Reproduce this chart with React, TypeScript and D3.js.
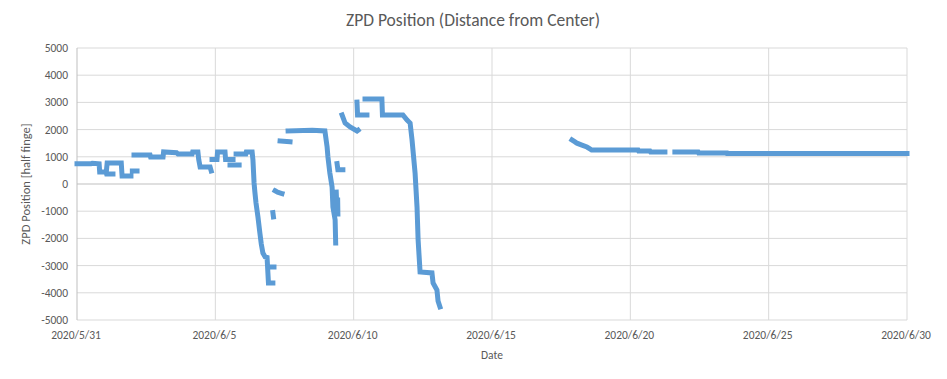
import React from "react";
import * as d3 from "d3";

// Series: time as days since 2020/5/31 00:00, value in half fringes; null splits segments
const dayOffsets: (number | null)[] = [
  0, 0.5, 0.55, 0.8, 0.82, 1.05, 1.07, 1.3, null,
  1.07, 1.09, 1.6, 1.63, 1.95, null,
  2.0, 2.17, null,
  2.06, 2.64, 2.66, 3.11, 3.13, 3.6, 3.65, 4.16, 4.18, 4.37, 4.4, 4.45, 4.81, 4.85, null,
  4.88, 5.06, 5.08, 5.35, 5.37, 5.64, null,
  5.53, 5.86, null,
  5.75, 6.1, 6.12, 6.33, 6.36, 6.4, 6.43, 6.47, 6.54, 6.61, 6.66, 6.72, 6.8, 6.87, 6.9, 6.92, 7.08, null,
  7.05, 7.12, null,
  7.08, 7.1, null,
  7.16, 7.25, 7.41, null,
  7.34, 7.7, null,
  7.63, 8.5, 8.96, 9.04, 9.07, 9.14, 9.22, 9.25, 9.33, 9.35, null,
  9.37, 9.4, 9.42, 9.43, null,
  9.4, 9.43, 9.61, null,
  9.58, 9.69, 9.87, 10.12, 10.16, null,
  10.12, 10.14, 10.48, null,
  10.41, 11.02, 11.04, 11.78, 11.93, 12.04, 12.11, 12.22, 12.29, 12.33, 12.4, 12.83, 12.87, 13.01, 13.05, 13.12, null,
  17.89, 18.0, 18.07, 18.25, 18.43, 18.54, 18.6, 20.28, 20.3, 20.71, 20.73, 21.25, null,
  21.61, 22.45, 22.47, 23.49, 23.5, 30,
];
const zpdValues: (number | null)[] = [
  740, 740, 760, 740, 440, 440, 370, 370, null,
  560, 770, 770, 290, 290, null,
  480, 480, null,
  1070, 1070, 990, 990, 1180, 1150, 1100, 1100, 1180, 1180, 900, 625, 625, 480, null,
  900, 900, 1180, 1180, 900, 900, null,
  700, 700, null,
  1100, 1100, 1180, 1180, 880, 37, -300, -700, -1210, -1800, -2200, -2540, -2680, -2700, -3270, -3640, -3640, null,
  -3050, -3050, null,
  -1050, -1210, null,
  -250, -300, -350, null,
  1580, 1550, null,
  1950, 1980, 1950, 1360, 990, 400, -110, -845, -1320, -2170, null,
  -300, -1100, -500, -1100, null,
  750, 520, 520, null,
  2540, 2240, 2100, 1950, 1980, null,
  3010, 2540, 2540, null,
  3125, 3125, 2540, 2540, 2350, 2240, 1620, 400, -845, -2060, -3235, -3270, -3640, -3900, -4300, -4520, null,
  1620, 1550, 1500, 1430, 1360, 1290, 1250, 1250, 1210, 1210, 1180, 1180, null,
  1180, 1180, 1140, 1140, 1120, 1120,
];

const yTicks = [5000, 4000, 3000, 2000, 1000, 0, -1000, -2000, -3000, -4000, -5000];
const xTickDays = [0, 5, 10, 15, 20, 25, 30];
const xTickLabels = ["2020/5/31", "2020/6/5", "2020/6/10", "2020/6/15", "2020/6/20", "2020/6/25", "2020/6/30"];

const W = 947;
const H = 379;
const FONT = "Calibri, Carlito, 'Liberation Sans', Arial, sans-serif";

export default function App() {
  const left = 77, right = 907, top = 48, bottom = 320;
  const x = d3.scaleLinear().domain([0, 30]).range([left, right]);
  const y = d3.scaleLinear().domain([-5000, 5000]).range([bottom, top]);

  const pts = dayOffsets.map((d, i) => [d, zpdValues[i]] as [number | null, number | null]);
  const line = d3
    .line<[number | null, number | null]>()
    .defined((p) => p[0] !== null && p[1] !== null)
    .x((p) => x(p[0] as number))
    .y((p) => y(p[1] as number));

  return (
    <svg
      width={W}
      height={H}
      style={{ position: "absolute", left: 0, top: 0, background: "#fff" }}
      fontFamily={FONT}
    >
      <rect x={0} y={0} width={W} height={H} fill="#fff" />
      <text x={473} y={26} textAnchor="middle" fontSize={17.5} fill="#595959">
        ZPD Position (Distance from Center)
      </text>
      {yTicks.map((t) => (
        <line key={"gy" + t} x1={left} x2={right} y1={y(t)} y2={y(t)} stroke={t === 0 ? "#bfbfbf" : "#d9d9d9"} strokeWidth={1} />
      ))}
      {xTickDays.map((d) => (
        <line key={"gx" + d} x1={x(d)} x2={x(d)} y1={top} y2={bottom} stroke={d === 0 ? "#bfbfbf" : "#d9d9d9"} strokeWidth={1} />
      ))}
      {yTicks.map((t) => (
        <text key={"ty" + t} x={left - 9} y={y(t)} dy="0.35em" textAnchor="end" fontSize={11.5} fill="#595959">
          {t}
        </text>
      ))}
      {xTickDays.map((d, i) => (
        <text key={"tx" + d} x={x(d) - 1} y={bottom + 19} textAnchor="middle" fontSize={11.5} fill="#595959">
          {xTickLabels[i]}
        </text>
      ))}
      <text x={492} y={359} textAnchor="middle" fontSize={11.5} fill="#595959">
        Date
      </text>
      <text
        transform={`translate(30, ${(top + bottom) / 2}) rotate(-90)`}
        textAnchor="middle"
        fontSize={12.5}
        fill="#595959"
      >
        ZPD Position [half finge]
      </text>
      <path d={line(pts) || ""} fill="none" stroke="#5b9bd5" strokeWidth={5} strokeLinejoin="miter" strokeLinecap="square" />
    </svg>
  );
}
